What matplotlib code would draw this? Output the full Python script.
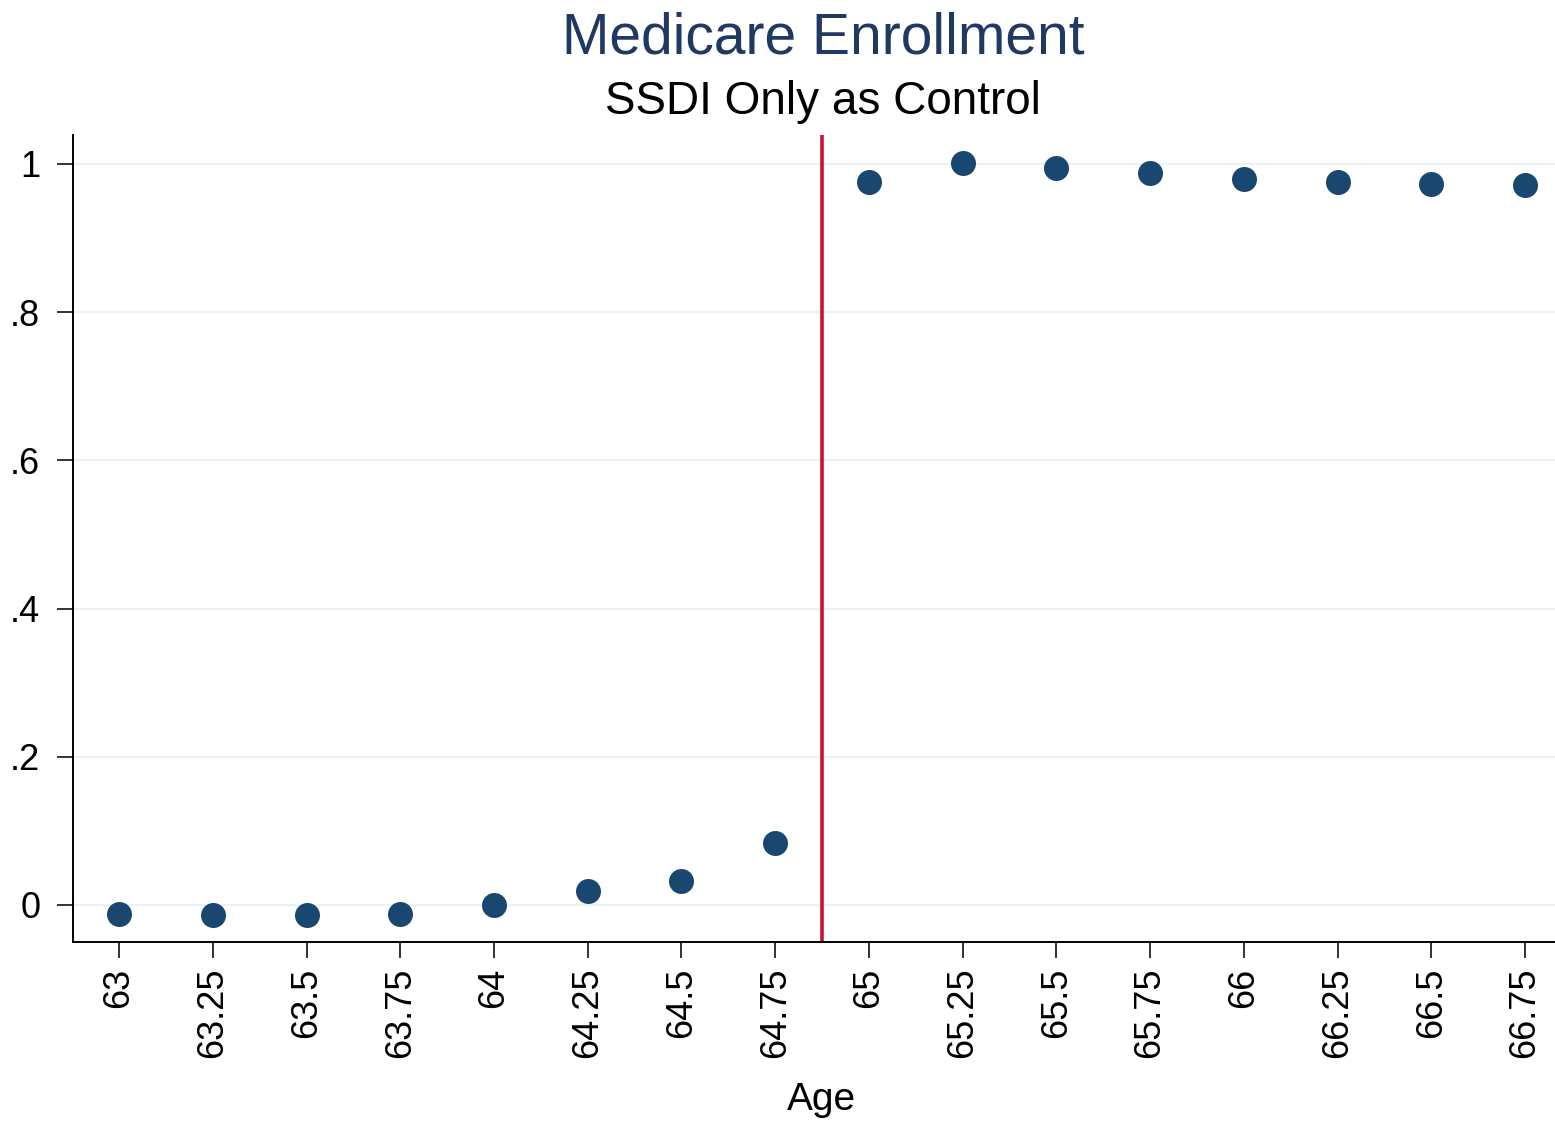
import matplotlib
matplotlib.use('Agg')
import matplotlib.pyplot as plt
import numpy as np

plt.rcParams['font.family'] = ['Liberation Sans', 'DejaVu Sans']

# binned means of Medicare enrollment by age (quarter-year bins)
age = [63, 63.25, 63.5, 63.75, 64, 64.25, 64.5, 64.75,
       65, 65.25, 65.5, 65.75, 66, 66.25, 66.5, 66.75]
enroll = [-0.012, -0.0135, -0.0135, -0.012, 0.0, 0.019, 0.032, 0.084,
          0.976, 1.001, 0.995, 0.988, 0.980, 0.976, 0.973, 0.972]
cutoff = 64.875

x_ticks = age
x_labels = ['63', '63.25', '63.5', '63.75', '64', '64.25', '64.5', '64.75',
            '65', '65.25', '65.5', '65.75', '66', '66.25', '66.5', '66.75']
y_ticks = [0, 0.2, 0.4, 0.6, 0.8, 1.0]
y_labels = ['0', '.2', '.4', '.6', '.8', '1']

navy = '#1a476f'

fig = plt.figure(figsize=(15.55, 11.23), dpi=100)
ax = fig.add_axes([0.0469, 0.1612, 0.9531, 0.7186])

for y in y_ticks:
    ax.axhline(y, color='#eaf2f3', linewidth=1.6, zorder=0)

ax.axvline(cutoff, color='#cc1038', linewidth=2.6, zorder=2)
ax.plot(age, enroll, linestyle='None', marker='o', markersize=18,
        color=navy, markeredgewidth=0, zorder=3)

ax.set_xlim(62.877, 66.83)
ax.set_ylim(-0.05, 1.039)

ax.set_xticks(x_ticks)
ax.set_xticklabels(x_labels, rotation=90, fontsize=26)
ax.set_yticks(y_ticks)
ax.set_yticklabels(y_labels, fontsize=26)
ax.tick_params(axis='both', length=11.5, width=1.4, color='#333333')
ax.tick_params(axis='x', pad=7)
ax.tick_params(axis='y', pad=12)

for side in ['top', 'right']:
    ax.spines[side].set_visible(False)
for side in ['left', 'bottom']:
    ax.spines[side].set_linewidth(1.4)

ax.set_xlabel('Age', fontsize=28, labelpad=16)
ax.xaxis.set_label_coords(822 / 1555 * 1555 / 1482 - 73 / 1482, -0.173, transform=ax.transAxes)

fig.text(823 / 1555, 1 - 38 / 1123, 'Medicare Enrollment', ha='center', va='center',
         fontsize=41, color='#1f3864')
fig.text(823 / 1555, 1 - 102 / 1123, 'SSDI Only as Control', ha='center', va='center',
         fontsize=33, color='black')

fig.savefig('out.png', dpi=100, facecolor='white')
